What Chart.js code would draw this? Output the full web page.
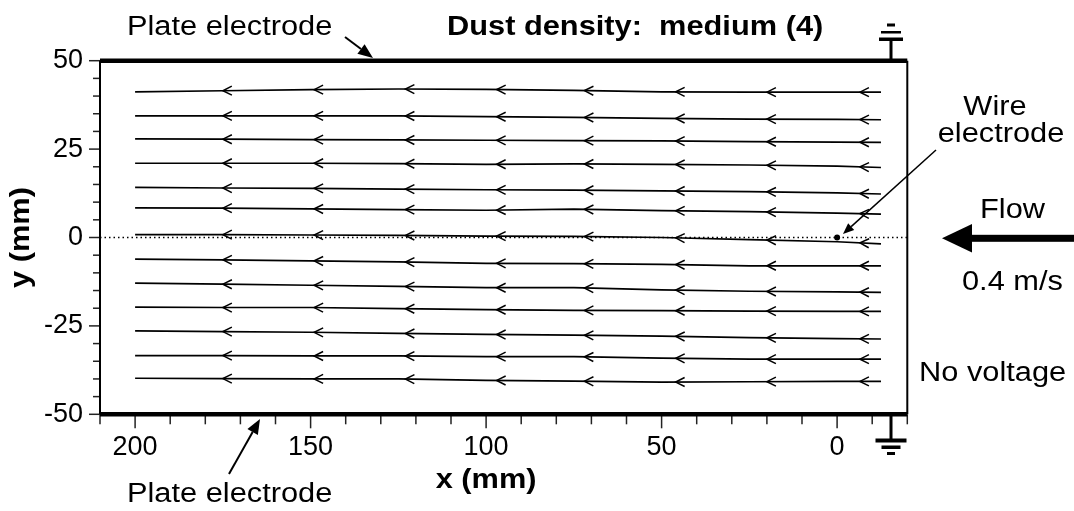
<!DOCTYPE html>
<html>
<head>
<meta charset="utf-8">
<script src="https://cdn.jsdelivr.net/npm/chart.js@4.4.1/dist/chart.umd.min.js"></script>
<style>
  html, body { margin: 0; padding: 0; background: #fff; }
  #wrap { width: 1074px; height: 511px; }
</style>
</head>
<body>
<div id="wrap"><canvas id="flowChart" width="1074" height="511"></canvas></div>
<script>
// streamline sample positions along x (mm)
const streamX = [200, 175, 150, 125, 100, 75, 50, 25, 0, -12.5];

// streamline y values (mm), top to bottom
const line1  = [41.2, 41.5, 41.8, 42.0, 41.9, 41.6, 41.2, 41.1, 41.1, 41.1];
const line2  = [34.4, 34.4, 34.4, 34.4, 34.2, 34.0, 33.7, 33.5, 33.4, 33.3];
const line3  = [27.9, 27.8, 27.7, 27.6, 27.5, 27.4, 27.3, 27.1, 27.0, 26.9];
const line4  = [21.0, 21.0, 21.0, 20.9, 20.7, 20.8, 20.7, 20.5, 20.2, 19.8];
const line5  = [14.2, 14.0, 13.9, 13.7, 13.5, 13.4, 13.2, 13.0, 12.6, 12.3];
const line6  = [8.4, 8.3, 8.1, 7.9, 7.7, 8.0, 7.6, 7.3, 6.9, 6.6];
const line7  = [0.8, 0.8, 0.7, 0.6, 0.4, 0.3, 0.0, -0.6, -1.2, -1.8];
const line8  = [-6.1, -6.3, -6.6, -6.9, -7.3, -7.4, -7.6, -8.0, -8.0, -8.0];
const line9  = [-12.9, -13.2, -13.5, -13.8, -14.2, -14.2, -14.8, -15.2, -15.4, -15.5];
const line10 = [-19.7, -19.8, -19.8, -20.1, -20.4, -20.6, -20.7, -20.8, -20.9, -20.9];
const line11 = [-26.4, -26.6, -26.8, -27.1, -27.4, -27.6, -27.9, -28.3, -28.6, -28.7];
const line12 = [-33.4, -33.4, -33.5, -33.5, -33.7, -33.7, -34.1, -34.4, -34.4, -34.4];
const line13 = [-39.8, -39.9, -40.0, -40.0, -40.4, -40.6, -40.9, -40.8, -40.7, -40.7];

// where the little flow arrows sit on every streamline (mm)
const arrowX = [175, 149, 123, 97, 72, 46, 20, -6.5];

// wire electrode position
const wireX = [0];
const wireY = [0];

// labelled ticks
const xLabels = [200, 150, 100, 50, 0];
const yLabels = [50, 25, 0, -25, -50];

const FONT = '"Liberation Sans", Arial, Helvetica, sans-serif';
const streams = [line1, line2, line3, line4, line5, line6, line7, line8, line9, line10, line11, line12, line13];

const datasets = streams.map(ys => ({
  data: streamX.map((x, i) => ({ x: x, y: ys[i] })),
  showLine: true,
  borderColor: '#000',
  borderWidth: 1.7,
  pointRadius: 0,
  fill: false
}));
datasets.push({
  data: wireX.map((x, i) => ({ x: x, y: wireY[i] })),
  showLine: false,
  pointRadius: 3,
  pointBackgroundColor: '#000',
  pointBorderWidth: 0
});

function text(ctx, str, x, y, opts) {
  opts = opts || {};
  ctx.save();
  ctx.font = (opts.bold ? 'bold ' : '') + (opts.size || 27) + 'px ' + FONT;
  ctx.fillStyle = '#000';
  ctx.textAlign = opts.align || 'left';
  ctx.textBaseline = opts.baseline || 'alphabetic';
  ctx.translate(x, y);
  if (opts.rotate) ctx.rotate(opts.rotate);
  ctx.scale(opts.sx || 1.14, 1);
  ctx.fillText(str, 0, 0);
  ctx.restore();
}

function arrow(ctx, x1, y1, x2, y2, headLen, headW, lw) {
  const ang = Math.atan2(y2 - y1, x2 - x1);
  const bx = x2 - Math.cos(ang) * headLen, by = y2 - Math.sin(ang) * headLen;
  ctx.save();
  ctx.strokeStyle = '#000';
  ctx.fillStyle = '#000';
  ctx.lineWidth = lw;
  ctx.beginPath();
  ctx.moveTo(x1, y1);
  ctx.lineTo(bx, by);
  ctx.stroke();
  ctx.beginPath();
  ctx.moveTo(x2, y2);
  ctx.lineTo(bx + Math.sin(ang) * headW, by - Math.cos(ang) * headW);
  ctx.lineTo(bx - Math.sin(ang) * headW, by + Math.cos(ang) * headW);
  ctx.closePath();
  ctx.fill();
  ctx.restore();
}

const decor = {
  id: 'decor',
  beforeDatasetsDraw(chart) {
    const { ctx, chartArea: a, scales: { y } } = chart;
    const y0 = y.getPixelForValue(0);
    ctx.save();
    ctx.strokeStyle = '#000';
    ctx.lineWidth = 1.5;
    ctx.setLineDash([1.5, 3]);
    ctx.beginPath();
    ctx.moveTo(a.left, y0);
    ctx.lineTo(a.right, y0);
    ctx.stroke();
    ctx.restore();
  },
  afterDraw(chart) {
    const { ctx, chartArea: a, scales: { x, y } } = chart;
    ctx.save();

    // chevrons along the streamlines
    ctx.strokeStyle = '#000';
    ctx.lineWidth = 1.5;
    streams.forEach(ys => {
      arrowX.forEach(ax => {
        let i = 0;
        while (i < streamX.length - 2 && !(ax <= streamX[i] && ax >= streamX[i + 1])) i++;
        const t = (ax - streamX[i]) / (streamX[i + 1] - streamX[i]);
        const ay = ys[i] + t * (ys[i + 1] - ys[i]);
        const px = x.getPixelForValue(ax), py = y.getPixelForValue(ay);
        const lx = x.getPixelForValue(streamX[i]), ly = y.getPixelForValue(ys[i]);
        const rx = x.getPixelForValue(streamX[i + 1]), ry = y.getPixelForValue(ys[i + 1]);
        let dx = lx - rx, dy = ly - ry;
        const len = Math.hypot(dx, dy);
        dx /= len; dy /= len;
        ctx.beginPath();
        ctx.moveTo(px - dx * 9 - dy * 4.5, py - dy * 9 + dx * 4.5);
        ctx.lineTo(px, py);
        ctx.lineTo(px - dx * 9 + dy * 4.5, py - dy * 9 - dx * 4.5);
        ctx.stroke();
      });
    });

    // tick marks
    ctx.strokeStyle = '#222';
    ctx.lineWidth = 1.5;
    x.ticks.forEach(t => {
      const px = x.getPixelForValue(t.value);
      ctx.beginPath();
      ctx.moveTo(px, a.bottom);
      ctx.lineTo(px, a.bottom + (xLabels.includes(t.value) ? 14 : 10));
      ctx.stroke();
    });
    y.ticks.forEach(t => {
      const py = y.getPixelForValue(t.value);
      ctx.beginPath();
      ctx.moveTo(a.left, py);
      ctx.lineTo(a.left - (yLabels.includes(t.value) ? 11 : 7), py);
      ctx.stroke();
    });

    // frame: thin sides, thick plate electrodes top and bottom
    ctx.strokeStyle = '#000';
    ctx.lineWidth = 2;
    ctx.beginPath();
    ctx.moveTo(a.left, a.top); ctx.lineTo(a.left, a.bottom);
    ctx.moveTo(a.right, a.top); ctx.lineTo(a.right, a.bottom);
    ctx.stroke();
    ctx.lineWidth = 4.5;
    ctx.beginPath();
    ctx.moveTo(a.left, a.top); ctx.lineTo(a.right, a.top);
    ctx.moveTo(a.left, a.bottom); ctx.lineTo(a.right, a.bottom);
    ctx.stroke();

    // ground symbols
    const gx = 891;
    ctx.lineWidth = 3;
    ctx.beginPath();
    ctx.moveTo(gx, a.top); ctx.lineTo(gx, 39);
    ctx.moveTo(gx, a.bottom); ctx.lineTo(gx, 440);
    ctx.stroke();
    ctx.fillStyle = '#000';
    ctx.fillRect(gx - 12, 37.5, 24, 3.5);
    ctx.fillRect(gx - 10, 31, 20, 2.5);
    ctx.fillRect(gx - 4, 23.5, 8, 3);
    ctx.fillRect(gx - 15.5, 438.5, 31, 4);
    ctx.fillRect(gx - 9.5, 445.5, 19, 3.5);
    ctx.fillRect(gx - 4, 452, 8, 3);

    // wire electrode pointer and plate pointers
    arrow(ctx, 936, 150, 843, 234, 11, 4.5, 1.5);
    arrow(ctx, 345, 37, 373, 58, 15, 6, 2);
    arrow(ctx, 229, 474, 260, 419, 15, 6, 2);

    // incoming flow arrow
    ctx.fillRect(968, 234.8, 106, 7);
    ctx.beginPath();
    ctx.moveTo(942, 238.3);
    ctx.lineTo(972, 224);
    ctx.lineTo(972, 252.6);
    ctx.closePath();
    ctx.fill();
    ctx.restore();

    // texts
    text(ctx, 'Plate electrode', 127, 34.5);
    text(ctx, 'Dust density:  medium (4)', 447, 35, { bold: true });
    text(ctx, 'Wire', 995, 115, { align: 'center' });
    text(ctx, 'electrode', 1001, 142, { align: 'center' });
    text(ctx, 'Flow', 980, 218);
    text(ctx, '0.4 m/s', 962, 290);
    text(ctx, 'No voltage', 919, 381);
    text(ctx, 'x (mm)', x.getPixelForValue(100), 488, { bold: true, align: 'center' });
    text(ctx, 'Plate electrode', 127, 502);
    text(ctx, 'y (mm)', 22, (a.top + a.bottom) / 2, { bold: true, align: 'center', baseline: 'middle', rotate: -Math.PI / 2 });
  }
};

new Chart(document.getElementById('flowChart'), {
  type: 'scatter',
  data: { datasets: datasets },
  options: {
    responsive: false,
    animation: false,
    layout: { padding: { top: 60.7, right: 166.7, left: 0, bottom: 0 } },
    plugins: { legend: { display: false }, tooltip: { enabled: false } },
    scales: {
      x: {
        type: 'linear',
        reverse: true,
        min: -20,
        max: 210,
        afterFit(scale) { scale.height = 96.7; },
        grid: { display: false, drawTicks: false, tickLength: 0 },
        border: { display: false },
        ticks: {
          stepSize: 10,
          autoSkip: false,
          maxRotation: 0,
          minRotation: 0,
          padding: 20,
          color: '#000',
          font: { size: 27, family: FONT, lineHeight: 1 },
          callback: v => xLabels.includes(v) ? String(v) : ''
        }
      },
      y: {
        type: 'linear',
        min: -50,
        max: 50,
        afterFit(scale) { scale.width = 100; },
        grid: { display: false, drawTicks: false, tickLength: 0 },
        border: { display: false },
        ticks: {
          stepSize: 5,
          autoSkip: false,
          padding: 17,
          color: '#000',
          font: { size: 27, family: FONT, lineHeight: 1 },
          callback: v => yLabels.includes(v) ? String(v) : ''
        }
      }
    }
  },
  plugins: [decor]
});
</script>
</body>
</html>
